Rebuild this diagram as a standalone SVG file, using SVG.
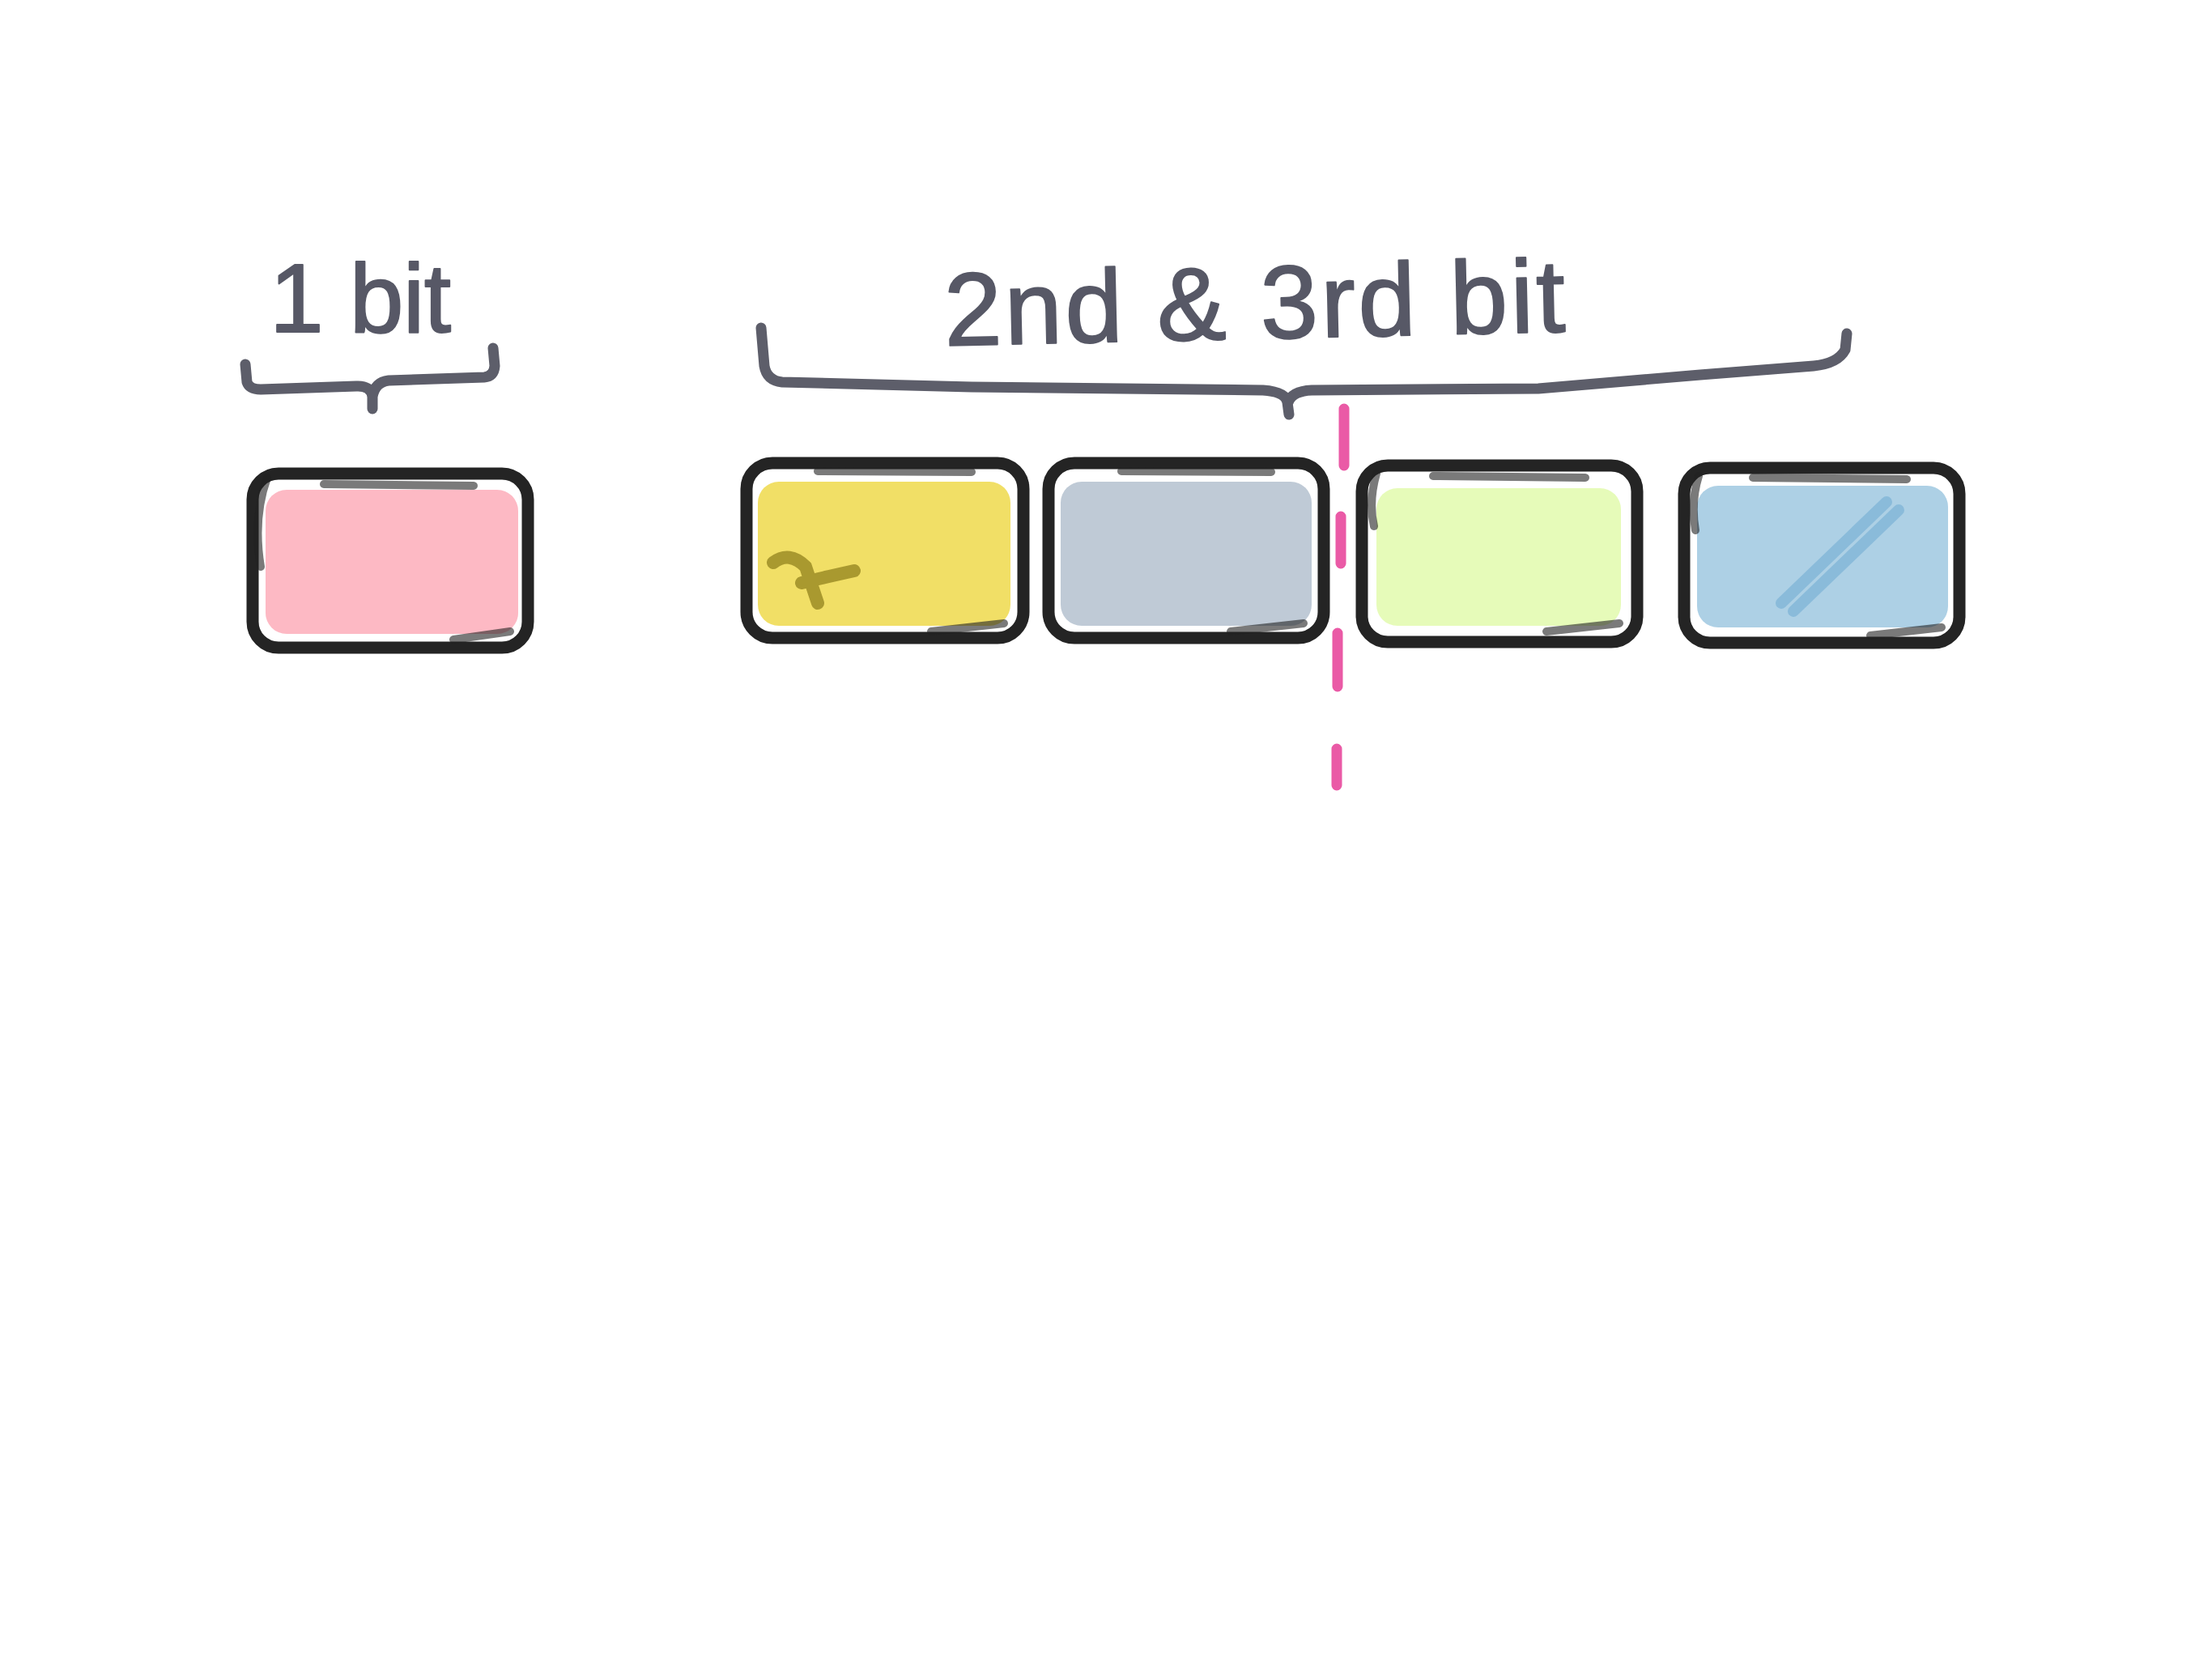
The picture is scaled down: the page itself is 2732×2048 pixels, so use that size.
<svg xmlns="http://www.w3.org/2000/svg" width="2732" height="2048" viewBox="0 0 2732 2048">
<style>
.outline{fill:none;stroke:#111;stroke-width:15;stroke-linecap:round;stroke-linejoin:round;opacity:0.92}
.sketch{fill:none;stroke:#222;stroke-width:10;stroke-linecap:round;opacity:0.6}
.brace{fill:none;stroke:#5d5e6a;stroke-width:13;stroke-linecap:round;stroke-linejoin:round}
.label{font-family:"Liberation Sans","DejaVu Sans",sans-serif;fill:#3a3c4c;stroke:#3a3c4c;stroke-width:2;stroke-linejoin:round;opacity:0.85}
.divider{fill:none;stroke:#ea5aa6;stroke-width:13;stroke-linecap:round}
</style>
<rect width="2732" height="2048" fill="#ffffff"/>

<g id="label-1bit">
<text class="label" x="333" y="410" font-size="120" textLength="224" lengthAdjust="spacing">1 bit</text>
<path class="brace" d="M303 450 L305 472 Q308 481 322 481 L440 477 Q458 476 460 490 L460 505 M460 490 Q463 472 480 470 L598 466 Q610 465 611 452 L609 430"/>
</g>

<g id="label-2nd-3rd-bit">
<text class="label" x="1167" y="427" font-size="128" textLength="767" lengthAdjust="spacing" transform="rotate(-1.3 1167 427)">2nd &amp; 3rd bit</text>
<path class="brace" d="M940 405 L944 452 Q947 470 966 472 L1200 478 L1560 482 Q1588 484 1590 497 L1592 512 M1591 497 Q1596 483 1620 482 L1900 480 L2100 463 L2240 452 Q2270 449 2279 432 L2281 412"/>
</g>

<g id="box-pink">
<rect x="328" y="605" width="312" height="178" rx="26" fill="#fdb5c1" opacity="0.95"/>
<rect class="outline" x="312" y="585" width="340" height="215" rx="32"/>
<path class="sketch" d="M330 590 Q312 640 322 700 M400 598 L585 600 M630 780 L560 790"/>
</g>

<g id="box-yellow">
<rect x="936" y="595" width="312" height="178" rx="26" fill="#efdb55" opacity="0.9"/>
<path d="M955 695 Q975 680 995 700 L1010 745 M990 720 Q1010 715 1055 705" fill="none" stroke="#8a7a18" stroke-width="16" stroke-linecap="round" opacity="0.7"/>
<rect class="outline" x="922" y="572" width="342" height="216" rx="32"/>
<path class="sketch" d="M1010 582 L1200 583 M1240 770 L1150 780"/>
</g>

<g id="box-gray">
<rect x="1310" y="595" width="310" height="178" rx="26" fill="#bcc7d4" opacity="0.95"/>
<rect class="outline" x="1295" y="572" width="340" height="216" rx="32"/>
<path class="sketch" d="M1385 582 L1570 583 M1610 770 L1520 780"/>
</g>

<g id="box-green">
<rect x="1700" y="603" width="302" height="170" rx="26" fill="#e5fbb5" opacity="0.95"/>
<rect class="outline" x="1682" y="575" width="340" height="218" rx="32"/>
<path class="sketch" d="M1700 585 Q1690 620 1697 650 M1770 588 L1958 590 M2000 770 L1910 780"/>
</g>

<g id="box-blue">
<rect x="2096" y="600" width="310" height="175" rx="26" fill="#a9cde4" opacity="0.95"/>
<path d="M2200 745 L2330 620 M2215 755 L2345 630" fill="none" stroke="#7bb2d6" stroke-width="14" stroke-linecap="round" opacity="0.7"/>
<rect class="outline" x="2080" y="578" width="340" height="216" rx="32"/>
<path class="sketch" d="M2098 588 Q2088 620 2094 655 M2165 590 L2355 592 M2398 775 L2310 785"/>
</g>

<g id="connectors">
<path class="divider" d="M1660 505 L1660 575 M1656 638 L1656 696 M1652 782 L1652 848 M1651 925 L1651 970"/>
</g>
</svg>
